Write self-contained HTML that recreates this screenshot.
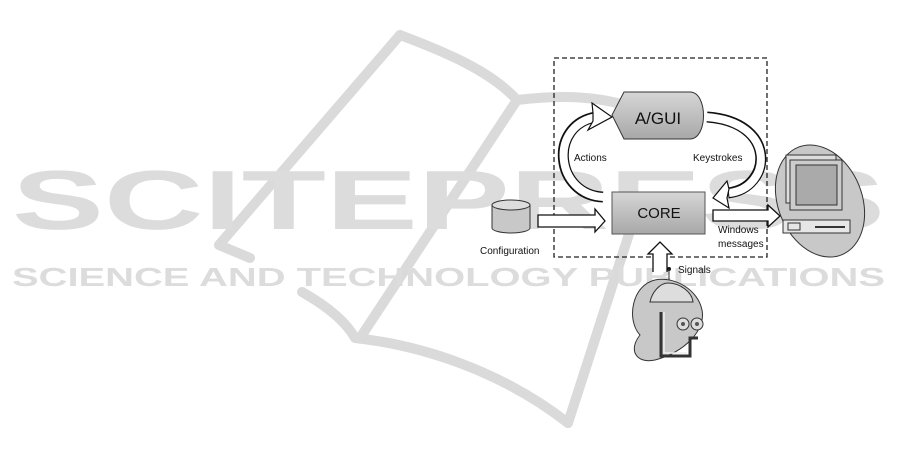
<!DOCTYPE html>
<html><head><meta charset="utf-8"><style>
html,body{margin:0;padding:0;background:#fff;width:901px;height:460px;overflow:hidden}
svg{display:block}
text{font-family:"Liberation Sans",sans-serif}
</style></head><body>
<svg width="901" height="460" viewBox="0 0 901 460">
<defs><linearGradient id="g" x1="0" y1="0" x2="0" y2="1"><stop offset="0" stop-color="#d6d6d6"/><stop offset="1" stop-color="#a8a8a8"/></linearGradient></defs>
<!-- watermark book -->
<g fill="none" stroke="#dadada" stroke-width="10" stroke-linejoin="round" stroke-linecap="round">
<path d="M400,35 C440,50 490,70 517,100 C560,95 600,95 640,110"/>
<path d="M400,35 L219,245 L250,258"/>
<path d="M517,100 L360,338"/>
<path d="M302,292 C325,305 345,320 355,338 C420,345 500,370 568,423"/>
<path d="M568,423 L640,200"/>
</g>
<text x="12" y="229" font-size="84" font-weight="bold" fill="#dcdcdc" textLength="873" lengthAdjust="spacingAndGlyphs">SCITEPRESS</text>
<text x="12" y="286" font-size="26" font-weight="bold" fill="#dcdcdc" textLength="873" lengthAdjust="spacingAndGlyphs">SCIENCE AND TECHNOLOGY PUBLICATIONS</text>
<!-- dashed box -->
<rect x="554" y="58" width="213" height="199" fill="none" stroke="#222" stroke-width="1.3" stroke-dasharray="5,3"/>
<!-- curved arrows -->
<g fill="none" stroke-linecap="butt">
<path d="M603,197 C555,195 548,125 596,117" stroke="#111" stroke-width="11"/>
<path d="M604,197 C555,195 548,125 597,117" stroke="#fff" stroke-width="8"/>
<path d="M707,117 C778,122 772,188 728,193" stroke="#111" stroke-width="11"/>
<path d="M706,117 C778,122 772,188 729,193" stroke="#fff" stroke-width="8"/>
</g>
<polygon points="592,103 612,117 588,130 593,121 593,113" fill="#fff" stroke="#111" stroke-width="1.2"/>
<polygon points="727,181 713,198 729,208 727,198 729,189" fill="#fff" stroke="#111" stroke-width="1.2"/>
<!-- A/GUI -->
<path d="M624,92 L690,92 C708,92 708,139 690,139 L624,139 L612,115 Z" fill="url(#g)" stroke="#333"/>
<text x="658" y="124" font-size="17" text-anchor="middle" fill="#111">A/GUI</text>
<text x="574" y="161" font-size="10" fill="#111">Actions</text>
<text x="693" y="161" font-size="10" fill="#111">Keystrokes</text>
<!-- CORE -->
<rect x="612" y="192" width="93" height="42" fill="url(#g)" stroke="#555"/>
<text x="659" y="218" font-size="15" text-anchor="middle" fill="#111">CORE</text>
<!-- cylinder -->
<path d="M492,205 L492,228 A19,5 0 0 0 530,228 L530,205" fill="#c8c8c8" stroke="#333"/>
<ellipse cx="511" cy="205" rx="19" ry="5" fill="#ddd" stroke="#333"/>
<text x="480" y="254" font-size="10" fill="#111">Configuration</text>
<!-- config arrow -->
<path d="M538,215 L595,215 L595,209 L605,221 L595,232 L595,227 L538,227 Z" fill="#fff" stroke="#111" stroke-width="1.3"/>
<!-- output arrow -->
<path d="M713,210 L768,210 L768,205 L780,216 L768,227 L768,221 L713,221 Z" fill="#fff" stroke="#111" stroke-width="1.3"/>
<text x="718" y="233" font-size="10" fill="#111">Windows</text>
<text x="718" y="247" font-size="10" fill="#111">messages</text>
<!-- signals arrow -->
<path d="M653,272 L653,254 L648,254 L660,242 L672,254 L667,254 L667,272" fill="#fff" stroke="#111" stroke-width="1.3"/>
<circle cx="669" cy="269" r="2" fill="#111"/>
<line x1="669" y1="269" x2="669" y2="283" stroke="#333"/>
<text x="678" y="273" font-size="10" fill="#111">Signals</text>
<!-- robot blob -->
<path d="M655,280 C632,285 626,320 640,335 C628,350 636,364 655,360 C685,352 706,330 702,310 C698,290 675,276 655,280 Z" fill="#c8c8c8" stroke="#333"/>
<path d="M668,283 C660,283 652,292 650,302 L693,302 C692,292 680,283 668,283 Z" fill="#ddd" stroke="#333"/>
<path d="M661,312 L661,356 L690,356 L690,338 L698,338" fill="none" stroke="#333" stroke-width="3"/>
<path d="M664,312 L664,353 L687,353" fill="none" stroke="#eee" stroke-width="1.5"/>
<circle cx="683" cy="324" r="6" fill="#ddd" stroke="#333"/><circle cx="697" cy="324" r="6" fill="#ddd" stroke="#333"/>
<circle cx="683" cy="324" r="2" fill="#555"/><circle cx="697" cy="324" r="2" fill="#555"/>
<!-- computer -->
<ellipse cx="820" cy="201" rx="42" ry="58" transform="rotate(-22 820 201)" fill="#c8c8c8" stroke="#333"/>
<rect x="786" y="155" width="50" height="48" fill="#ddd" stroke="#333"/>
<rect x="790" y="160" width="52" height="50" fill="#ccc" stroke="#333"/>
<rect x="796" y="165" width="41" height="40" fill="#aaa" stroke="#333"/>
<rect x="783" y="220" width="67" height="13" fill="#e6e6e6" stroke="#333"/>
<line x1="815" y1="227" x2="845" y2="227" stroke="#333" stroke-width="2"/>
<rect x="788" y="223" width="12" height="7" fill="none" stroke="#333"/>
</svg>
</body></html>
